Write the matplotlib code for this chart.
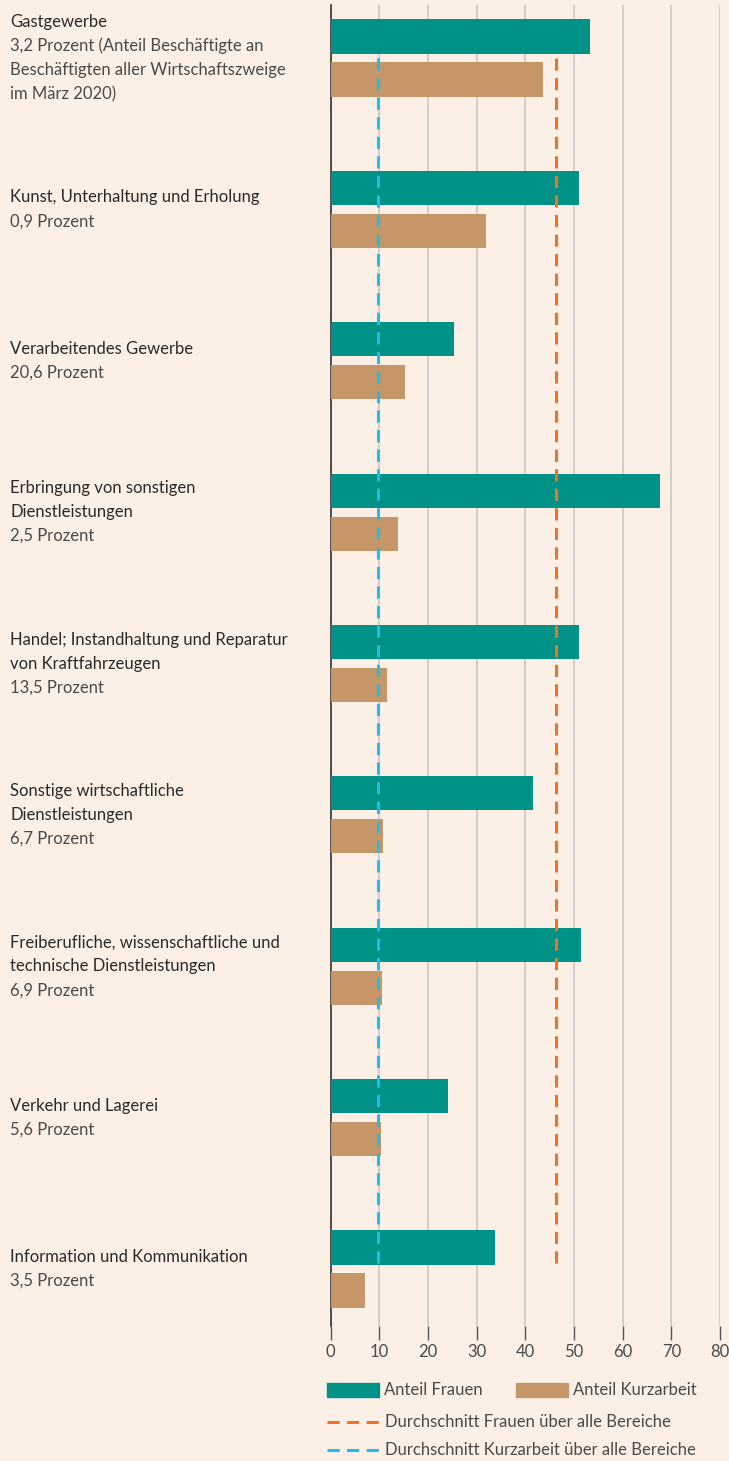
import numpy as np
import matplotlib.pyplot as plt
from matplotlib import transforms
from matplotlib.patches import Rectangle
from matplotlib.lines import Line2D

# Branchen: Titelzeilen und Zusatzzeilen
titles = [
    ['Gastgewerbe'],
    ['Kunst, Unterhaltung und Erholung'],
    ['Verarbeitendes Gewerbe'],
    ['Erbringung von sonstigen', 'Dienstleistungen'],
    ['Handel; Instandhaltung und Reparatur', 'von Kraftfahrzeugen'],
    ['Sonstige wirtschaftliche', 'Dienstleistungen'],
    ['Freiberufliche, wissenschaftliche und', 'technische Dienstleistungen'],
    ['Verkehr und Lagerei'],
    ['Information und Kommunikation'],
]
subs = [
    ['3,2 Prozent (Anteil Beschäftigte an', 'Beschäftigten aller Wirtschaftszweige', 'im März 2020)'],
    ['0,9 Prozent'],
    ['20,6 Prozent'],
    ['2,5 Prozent'],
    ['13,5 Prozent'],
    ['6,7 Prozent'],
    ['6,9 Prozent'],
    ['5,6 Prozent'],
    ['3,5 Prozent'],
]

anteil_frauen = [53.3, 51.0, 25.3, 67.6, 51.0, 41.5, 51.4, 24.1, 33.7]
anteil_kurzarbeit = [43.6, 31.9, 15.3, 13.8, 11.6, 10.8, 10.6, 10.4, 7.0]
avg_frauen = 46.4
avg_kurzarbeit = 9.8
xticks = [0, 10, 20, 30, 40, 50, 60, 70, 80]

BG = '#fcefe6'
TEAL = '#009286'
TAN = '#c49668'
ORANGE = '#f07226'
BLUE = '#1ebdea'
DARK = '#2a2a2a'
GREY = '#4a4a4a'

FONT = 'Lato'
FS = 12
plt.rcParams['font.family'] = [FONT, 'DejaVu Sans']

W, H = 729, 1461
fig = plt.figure(figsize=(W / 100, H / 100), dpi=100, facecolor=BG)


def fx(px):
    return px / W


def fy(py):
    return 1 - py / H


ax = fig.add_axes([fx(330.5), fy(1326), fx(720) - fx(330.5), fy(5) - fy(1326)])
ax.set_facecolor(BG)

n = len(titles)
y = np.arange(n)
off = 0.142
bh = 0.225
ax.barh(y - off, anteil_frauen, height=bh, color=TEAL, zorder=3)
ax.barh(y + off, anteil_kurzarbeit, height=bh, color=TAN, zorder=3)

dash = (4, 2.4)
ax.plot([avg_frauen, avg_frauen], [0, n - 1], color=ORANGE, lw=2.2,
        dashes=dash, zorder=4)
ax.plot([avg_kurzarbeit, avg_kurzarbeit], [0, n - 1], color=BLUE, lw=2.2,
        dashes=dash, zorder=4)

ax.set_xlim(0, 80)
ax.set_ylim(n - 1 + 57 / 151.4, -53 / 151.4)
ax.set_xticks(xticks)
ax.set_yticks([])
ax.grid(axis='x', color='#c9c5c3', lw=1.1, zorder=0)
ax.tick_params(axis='x', length=10, width=1.0, color='#555555',
               labelsize=FS, labelcolor=GREY, pad=3)
for s in ['top', 'right', 'bottom']:
    ax.spines[s].set_visible(False)
ax.spines['left'].set_color('#333333')
ax.spines['left'].set_linewidth(1.2)

# Beschriftungen links, je Gruppe vertikal zentriert
tr = transforms.blended_transform_factory(fig.transFigure, ax.transData)
line_h = 24 / 151.4
for i in range(n):
    lines = [(t, DARK) for t in titles[i]] + [(s, GREY) for s in subs[i]]
    k0 = (len(lines) - 1) / 2
    for k, (txt, col) in enumerate(lines):
        ax.text(fx(10), i + (k - k0) * line_h, txt, transform=tr, color=col,
                fontsize=FS, va='center', ha='left', clip_on=False)

# Legende
fig.patches.append(Rectangle((fx(327), fy(1397)), fx(52), fy(1383) - fy(1397),
                             transform=fig.transFigure, color=TEAL))
fig.text(fx(384), fy(1390), 'Anteil Frauen', color=GREY, fontsize=FS,
         va='center')
fig.patches.append(Rectangle((fx(516), fy(1397)), fx(52), fy(1383) - fy(1397),
                             transform=fig.transFigure, color=TAN))
fig.text(fx(573), fy(1390), 'Anteil Kurzarbeit', color=GREY, fontsize=FS,
         va='center')
fig.lines.append(Line2D([fx(327), fx(381)], [fy(1422), fy(1422)],
                        transform=fig.transFigure, color=ORANGE, lw=2.2, dashes=dash))
fig.text(fx(385), fy(1422), 'Durchschnitt Frauen über alle Bereiche', color=GREY,
         fontsize=FS, va='center')
fig.lines.append(Line2D([fx(327), fx(381)], [fy(1450), fy(1450)],
                        transform=fig.transFigure, color=BLUE, lw=2.2, dashes=dash))
fig.text(fx(385), fy(1450), 'Durchschnitt Kurzarbeit über alle Bereiche', color=GREY,
         fontsize=FS, va='center')

fig.savefig('out.png', dpi=100, facecolor=BG)
